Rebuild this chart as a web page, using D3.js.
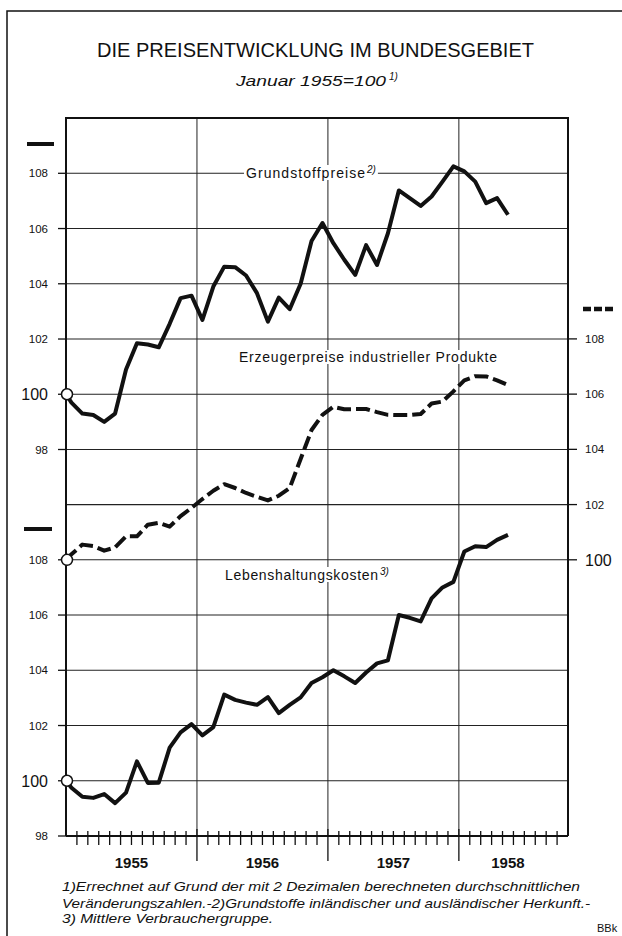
<!DOCTYPE html>
<html>
<head>
<meta charset="utf-8">
<script src="https://cdn.jsdelivr.net/npm/d3@7"></script>
<style>
body { margin: 0; background: #fff; }
svg { display: block; }
text { font-family: "Liberation Sans", Arial, sans-serif; fill: #111; }
</style>
</head>
<body>
<script>
//monthly values from Januar 1955 to Mai 1958 (Januar 1955 = 100)
var grundstoff = [99.7, 99.3, 99.25, 99.0, 99.3, 100.9, 101.85, 101.8, 101.7, 102.55, 103.48, 103.57,
                  102.69, 103.9, 104.62, 104.6, 104.3, 103.66, 102.63, 103.5, 103.08, 104.0, 105.55, 106.2,
                  105.47, 104.87, 104.32, 105.4, 104.68, 105.83, 107.38, 107.1, 106.82, 107.16, 107.7, 108.25,
                  108.07, 107.7, 106.92, 107.1, 106.5];
var erzeuger = [100.2, 100.55, 100.5, 100.33, 100.45, 100.85, 100.85, 101.27, 101.34, 101.2, 101.58, 101.88,
                102.2, 102.5, 102.74, 102.6, 102.42, 102.28, 102.15, 102.32, 102.6, 103.65, 104.7, 105.25,
                105.54, 105.45, 105.46, 105.46, 105.35, 105.25, 105.24, 105.24, 105.28, 105.66, 105.73, 106.1,
                106.5, 106.65, 106.64, 106.5, 106.33];
var lebenshaltung = [99.75, 99.42, 99.38, 99.52, 99.19, 99.57, 100.7, 99.92, 99.93, 101.2, 101.75, 102.05,
                     101.64, 101.94, 103.12, 102.93, 102.83, 102.75, 103.03, 102.45, 102.75, 103.02, 103.54, 103.75,
                     104.0, 103.78, 103.54, 103.92, 104.25, 104.36, 106.0, 105.9, 105.77, 106.6, 107.0, 107.2,
                     108.3, 108.49, 108.46, 108.72, 108.9];

//axis values and labels
var years = ["1955", "1956", "1957", "1958"];
var leftTicks = [98, 100, 102, 104, 106, 108];
var rightTicks = [100, 102, 104, 106, 108];
var footnotes = [
    "1)Errechnet auf Grund der mit 2 Dezimalen berechneten durchschnittlichen",
    "Veränderungszahlen.-2)Grundstoffe inländischer und ausländischer Herkunft.-",
    "3) Mittlere Verbrauchergruppe."
];

var width = 622;
var height = 936;

var canvas = d3.select("body").append("svg")
            .attr("width", width)
            .attr("height", height);

//scales: months since jan 1955, three value scales sharing one grid
var x = d3.scaleLinear().domain([0, 46]).range([66, 568]);
var yTop = d3.scaleLinear().domain([98, 108]).range([449.5, 173.3]);
var yBot = d3.scaleLinear().domain([98, 108]).range([836, 559.8]);
var yRight = d3.scaleLinear().domain([100, 108]).range([559.8, 338.9]);

//outer frame (left and top only)
canvas.append("path")
    .attr("d", "M7,936V11H622")
    .attr("fill", "none")
    .attr("stroke", "#111")
    .attr("stroke-width", 1.5);

//title
canvas.append("text")
    .attr("x", 315.5).attr("y", 57)
    .attr("text-anchor", "middle")
    .attr("font-size", 20)
    .attr("textLength", 437)
    .attr("lengthAdjust", "spacingAndGlyphs")
    .text("DIE PREISENTWICKLUNG IM BUNDESGEBIET");

canvas.append("text")
    .attr("x", 236).attr("y", 86)
    .attr("font-size", 15)
    .attr("font-style", "italic")
    .attr("textLength", 150)
    .attr("lengthAdjust", "spacingAndGlyphs")
    .text("Januar 1955=100");
canvas.append("text")
    .attr("x", 389).attr("y", 80)
    .attr("font-size", 10)
    .attr("font-style", "italic")
    .text("1)");

//horizontal grid
var gridY = leftTicks.map(yTop).concat([yRight(102)]).concat(leftTicks.map(yBot));
var grid = canvas.append("g");
grid.selectAll("line.h")
    .data(gridY)
    .enter()
    .append("line")
    .attr("class", "h")
    .attr("x1", x(0)).attr("x2", x(46))
    .attr("y1", function (d) { return d }).attr("y2", function (d) { return d })
    .attr("stroke", "#222")
    .attr("stroke-width", 1.1);

//vertical year lines
grid.selectAll("line.v")
    .data([12, 24, 36])
    .enter()
    .append("line")
    .attr("class", "v")
    .attr("x1", function (d) { return x(d) }).attr("x2", function (d) { return x(d) })
    .attr("y1", 118).attr("y2", 836)
    .attr("stroke", "#222")
    .attr("stroke-width", 1);

//left ticks and labels, upper and lower panel
[yTop, yBot].forEach(function (scale) {
    var g = canvas.append("g");
    g.selectAll("line")
        .data(leftTicks)
        .enter()
        .append("line")
        .attr("x1", 58).attr("x2", 66)
        .attr("y1", function (d) { return scale(d) }).attr("y2", function (d) { return scale(d) })
        .attr("stroke", "#111")
        .attr("stroke-width", 1.3);
    g.selectAll("text")
        .data(leftTicks)
        .enter()
        .append("text")
        .attr("x", 48)
        .attr("y", function (d) { return scale(d) })
        .attr("dy", function (d) { return d == 100 ? "0.36em" : "0.35em" })
        .attr("text-anchor", "end")
        .attr("font-size", function (d) { return d == 100 ? 16 : 11.5 })
        .text(function (d) { return d });
});

//right ticks and labels
var gr = canvas.append("g");
gr.selectAll("line")
    .data(rightTicks)
    .enter()
    .append("line")
    .attr("x1", 568).attr("x2", 577)
    .attr("y1", function (d) { return yRight(d) }).attr("y2", function (d) { return yRight(d) })
    .attr("stroke", "#111")
    .attr("stroke-width", 1.3);
gr.selectAll("text")
    .data(rightTicks)
    .enter()
    .append("text")
    .attr("x", 585)
    .attr("y", function (d) { return yRight(d) })
    .attr("dy", "0.36em")
    .attr("font-size", function (d) { return d == 100 ? 16 : 11.5 })
    .text(function (d) { return d });

//plot border
canvas.append("path")
    .attr("d", "M" + x(0) + ",836V118H" + x(46) + "V836")
    .attr("fill", "none")
    .attr("stroke", "#111")
    .attr("stroke-width", 2);
canvas.append("line")
    .attr("x1", x(0)).attr("x2", x(46))
    .attr("y1", 836).attr("y2", 836)
    .attr("stroke", "#111")
    .attr("stroke-width", 2);

//month ticks on x axis
var months = d3.range(1, 46);
canvas.append("g").selectAll("line")
    .data(months)
    .enter()
    .append("line")
    .attr("x1", function (d) { return x(d) }).attr("x2", function (d) { return x(d) })
    .attr("y1", function (d) { return d % 12 == 0 ? 829 : 831 })
    .attr("y2", function (d) { return d % 12 == 0 ? 861 : 845 })
    .attr("stroke", "#111")
    .attr("stroke-width", 1.3);

//year labels
canvas.append("g").selectAll("text")
    .data(years)
    .enter()
    .append("text")
    .attr("x", function (d, i) { return x((i * 12 + Math.min(i * 12 + 12, 45)) / 2) })
    .attr("y", 868)
    .attr("text-anchor", "middle")
    .attr("font-size", 15)
    .attr("font-weight", "bold")
    .text(function (d) { return d });

//legend markers for the scales
canvas.append("line")
    .attr("x1", 27).attr("x2", 54).attr("y1", 144).attr("y2", 144)
    .attr("stroke", "#111").attr("stroke-width", 4);
canvas.append("line")
    .attr("x1", 24).attr("x2", 52).attr("y1", 529).attr("y2", 529)
    .attr("stroke", "#111").attr("stroke-width", 4);
canvas.append("line")
    .attr("x1", 583).attr("x2", 613).attr("y1", 309).attr("y2", 309)
    .attr("stroke", "#111").attr("stroke-width", 4.5)
    .attr("stroke-dasharray", "8,3");

//series labels with white background over the grid
function label(txt, sup, x0, base, w) {
    var g = canvas.append("g");
    var bg = g.append("rect").attr("fill", "#fff");
    g.append("text")
        .attr("x", x0).attr("y", base)
        .attr("font-size", 14)
        .attr("textLength", w)
        .attr("lengthAdjust", "spacing")
        .text(txt);
    if (sup) {
        g.append("text")
            .attr("x", x0 + w + 2).attr("y", base - 5)
            .attr("font-size", 10)
            .attr("font-style", "italic")
            .text(sup);
    }
    var b = g.node().getBBox();
    bg.attr("x", b.x - 2).attr("y", b.y + 1).attr("width", b.width + 4).attr("height", b.height - 2);
}
label("Grundstoffpreise", "2)", 246, 178, 119);
label("Erzeugerpreise industrieller Produkte", null, 239, 362, 258);
label("Lebenshaltungskosten", "3)", 225, 580, 153);

//turn a monthly series into points, starting at the base value on the axis
function points(values) {
    return [{ m: 0, v: 100 }].concat(values.map(function (v, i) { return { m: i + 0.5, v: v } }));
}

var series = [
    { values: grundstoff, y: yTop, dash: null },
    { values: erzeuger, y: yRight, dash: "14,5" },
    { values: lebenshaltung, y: yBot, dash: null }
];

series.forEach(function (s) {
    var line = d3.line()
        .x(function (d) { return x(d.m) })
        .y(function (d) { return s.y(d.v) });
    canvas.append("path")
        .datum(points(s.values))
        .attr("d", line)
        .attr("fill", "none")
        .attr("stroke", "#111")
        .attr("stroke-width", 4)
        .attr("stroke-linejoin", "round")
        .attr("stroke-dasharray", s.dash);
    canvas.append("circle")
        .attr("cx", x(0) + 1).attr("cy", s.y(100))
        .attr("r", 5.5)
        .attr("fill", "#fff")
        .attr("stroke", "#111")
        .attr("stroke-width", 1.5);
});

//footnotes
var lens = [518, 528, 211];
canvas.append("g").selectAll("text")
    .data(footnotes)
    .enter()
    .append("text")
    .attr("x", 62)
    .attr("y", function (d, i) { return [891, 908, 923][i] })
    .attr("font-size", 13)
    .attr("font-style", "italic")
    .attr("textLength", function (d, i) { return lens[i] })
    .attr("lengthAdjust", "spacingAndGlyphs")
    .text(function (d) { return d });

canvas.append("text")
    .attr("x", 597).attr("y", 932)
    .attr("font-size", 11)
    .text("BBk");
</script>
</body>
</html>
